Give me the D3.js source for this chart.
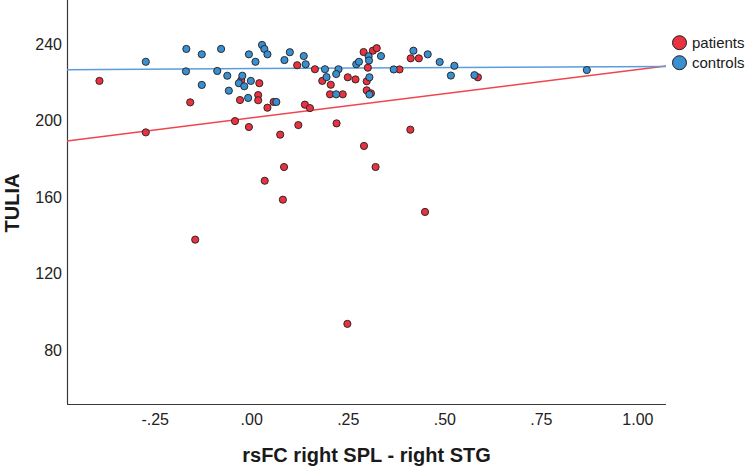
<!DOCTYPE html>
<html>
<head>
<meta charset="utf-8">
<script src="https://cdn.jsdelivr.net/npm/d3@7"></script>
<style>
  html, body { margin: 0; padding: 0; background: #ffffff; }
  svg { display: block; font-family: Arial, "Liberation Sans", sans-serif; }
</style>
</head>
<body>
<svg id="chart" width="752" height="470"></svg>
<script>
// ---- data ----
const seriesNames = ["patients", "controls"];

const patientsX = [-0.393, -0.273, -0.158, -0.042, -0.006, -0.026, -0.029, 0.021, 0.018, 0.018,
  0.042, 0.058, 0.119, 0.165, 0.184, 0.206, 0.204, 0.237, 0.250, 0.270,
  0.291, 0.315, 0.325, 0.302, 0.299, 0.299, 0.310, 0.384, 0.413, 0.434,
  0.587, 0.139, 0.152, 0.075, 0.122, 0.221, 0.412, 0.292, 0.085, 0.035,
  0.082, -0.145, 0.322, 0.450, 0.249];
const patientsY = [220.7, 193.8, 209.5, 199.7, 196.6, 221.0, 210.7, 219.5, 213.3, 210.6,
  206.7, 209.7, 228.9, 226.8, 220.7, 218.7, 213.7, 213.7, 222.6, 221.5,
  235.8, 236.5, 237.8, 227.6, 220.5, 215.8, 214.2, 226.7, 232.5, 232.5,
  222.6, 208.3, 206.5, 192.6, 197.6, 198.5, 195.2, 186.7, 175.7, 168.5,
  158.6, 137.7, 175.7, 152.2, 93.7];

const controlsX = [-0.273, -0.168, -0.128, -0.078, -0.169, -0.088, -0.128, -0.062, -0.023, -0.032,
  -0.018, -0.001, -0.058, -0.008, -0.006, 0.011, 0.028, 0.034, 0.042, 0.065,
  0.086, 0.100, 0.136, 0.141, 0.191, 0.226, 0.220, 0.195, 0.220, 0.272,
  0.279, 0.304, 0.305, 0.336, 0.306, 0.306, 0.369, 0.420, 0.457, 0.488,
  0.526, 0.517, 0.578, 0.869];
const controlsY = [230.7, 237.4, 234.6, 237.4, 225.7, 225.9, 218.6, 223.4, 223.4, 219.5,
  217.9, 220.7, 215.6, 211.8, 234.6, 230.7, 239.5, 237.4, 234.6, 209.7,
  231.6, 235.7, 233.7, 229.4, 226.8, 226.8, 224.3, 222.7, 213.7, 229.4,
  230.7, 233.6, 231.4, 233.7, 222.6, 213.6, 226.7, 236.5, 234.6, 230.6,
  228.6, 223.5, 223.7, 226.4];

// fit lines (end points over the x range)
const fitX = [-0.477, 1.074];
const patientsFit = [189.3, 228.5];
const controlsFit = [226.6, 228.3];

const xTickValues = [-0.25, 0, 0.25, 0.5, 0.75, 1.0];
const xTickLabels = ["-.25", ".00", ".25", ".50", ".75", "1.00"];
const yTickValues = [80, 120, 160, 200, 240];
const yTickLabels = ["80", "120", "160", "200", "240"];

const xTitle = "rsFC right SPL - right STG";
const yTitle = "TULIA";

// ---- styles ----
const colors = { patients: "#e8323f", controls: "#3a8fd0" };
const lineColors = { patients: "#f0444f", controls: "#5a9edb" };

// ---- chart ----
const svg = d3.select("#chart");
const pLeft = 67, pRight = 666, pTop = 0, pBottom = 404;

const x = d3.scaleLinear().domain([-0.477, 1.074]).range([pLeft, pRight]);
const y = d3.scaleLinear().domain([51.8, 263]).range([pBottom, pTop]);

// axes
const xAxis = d3.axisBottom(x).tickValues(xTickValues)
  .tickFormat((d, i) => xTickLabels[i]).tickSize(0).tickPadding(10);
const gx = svg.append("g").attr("transform", `translate(0,${pBottom})`).call(xAxis);
gx.select(".domain").attr("stroke", "#3a3a3a").attr("stroke-width", 1.2)
  .attr("d", `M${pLeft},0.5H${pRight}`);
gx.selectAll("text").attr("font-size", 16).attr("fill", "#222222")
  .attr("font-family", "Arial, 'Liberation Sans', sans-serif");

const yAxis = d3.axisLeft(y).tickValues(yTickValues)
  .tickFormat((d, i) => yTickLabels[i]).tickSize(0).tickPadding(5);
const gy = svg.append("g").attr("transform", `translate(${pLeft},0)`).call(yAxis);
gy.select(".domain").attr("stroke", "#3a3a3a").attr("stroke-width", 1.2)
  .attr("d", `M0.5,${pTop}V${pBottom}`);
gy.selectAll("text").attr("font-size", 16).attr("fill", "#222222")
  .attr("font-family", "Arial, 'Liberation Sans', sans-serif");

// fit lines
const line = d3.line().x(d => x(d[0])).y(d => y(d[1]));
[["patients", patientsFit], ["controls", controlsFit]].forEach(([name, ys]) => {
  svg.append("path")
    .datum(fitX.map((xv, i) => [xv, ys[i]]))
    .attr("d", line)
    .attr("fill", "none")
    .attr("stroke", lineColors[name])
    .attr("stroke-width", 1.5);
});

// points
function drawPoints(name, xs, ys) {
  svg.append("g").selectAll("circle")
    .data(xs.map((xv, i) => [xv, ys[i]]))
    .join("circle")
    .attr("cx", d => x(d[0]))
    .attr("cy", d => y(d[1]))
    .attr("r", 3.6)
    .attr("fill", colors[name])
    .attr("stroke", "#1f1f1f")
    .attr("stroke-width", 0.9);
}
drawPoints("patients", patientsX, patientsY);
drawPoints("controls", controlsX, controlsY);

// titles
svg.append("text")
  .attr("x", (pLeft + pRight) / 2).attr("y", 462)
  .attr("text-anchor", "middle")
  .attr("font-size", 20).attr("font-weight", "bold").attr("fill", "#1a1a1a")
  .text(xTitle);

svg.append("text")
  .attr("transform", `translate(${19},${203}) rotate(-90)`)
  .attr("text-anchor", "middle")
  .attr("font-size", 20).attr("font-weight", "bold").attr("fill", "#1a1a1a")
  .text(yTitle);

// legend
const legend = svg.append("g");
seriesNames.forEach((name, i) => {
  const cy = 42.7 + i * 20;
  legend.append("circle")
    .attr("cx", 679.5).attr("cy", cy).attr("r", 7)
    .attr("fill", colors[name]).attr("stroke", "#1f1f1f").attr("stroke-width", 1);
  legend.append("text")
    .attr("x", 692).attr("y", cy).attr("dy", "0.35em")
    .attr("font-size", 15).attr("fill", "#1a1a1a")
    .text(name);
});
</script>
</body>
</html>
